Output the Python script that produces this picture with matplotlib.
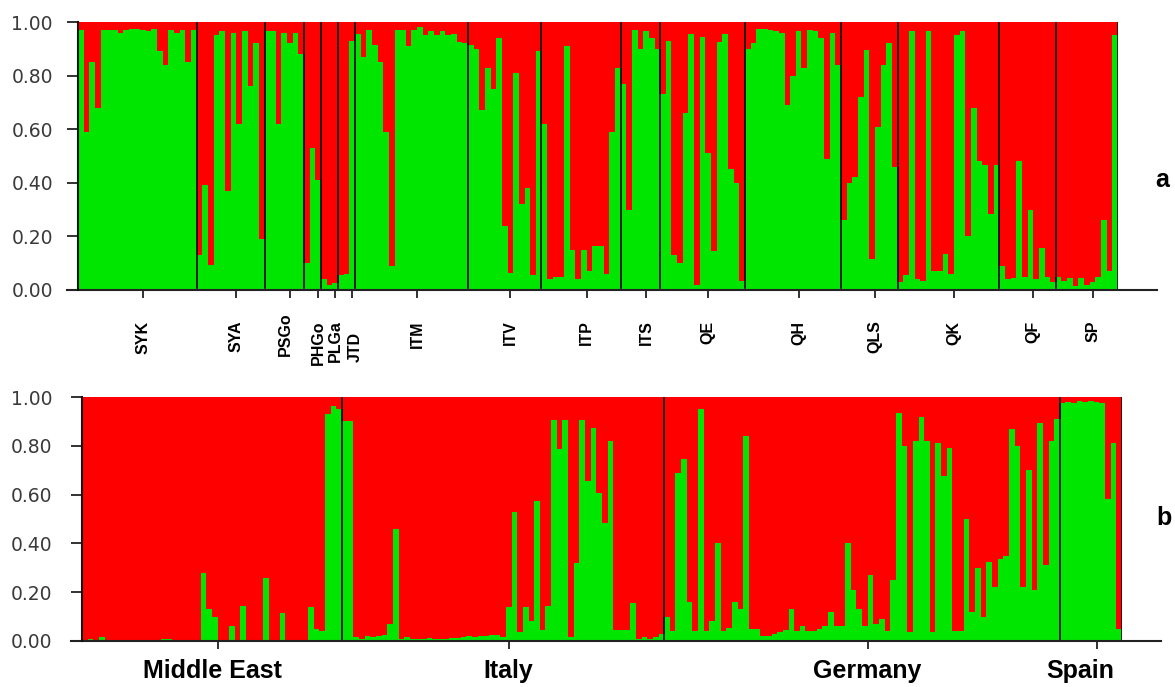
import numpy as np
import matplotlib
matplotlib.use("Agg")
import matplotlib.pyplot as plt

RED = "#ff0000"
GREEN = "#00e600"

# panel a: populations and membership (green cluster) per individual
pop_names = ["SYK", "SYA", "PSGo", "PHGo", "PLGa", "JTD", "ITM", "ITV", "ITP",
             "ITS", "QE", "QH", "QLS", "QK", "QF", "SP"]
pop_sizes = [21, 12, 7, 3, 3, 3, 20, 13, 14, 7, 15, 17, 10, 18, 10, 11]

green_a = [
    0.97, 0.59, 0.85, 0.68, 0.97, 0.97, 0.97, 0.96, 0.97, 0.975, 0.975, 0.97,
    0.965, 0.975, 0.89, 0.84, 0.97, 0.96, 0.97, 0.85, 0.97,                    # SYK
    0.13, 0.39, 0.095, 0.95, 0.965, 0.37, 0.96, 0.62, 0.965, 0.76, 0.92, 0.19,  # SYA
    0.965, 0.965, 0.62, 0.96, 0.92, 0.96, 0.88,                                 # PSGo
    0.10, 0.53, 0.41,                                                           # PHGo
    0.04, 0.02, 0.025,                                                          # PLGa
    0.055, 0.06, 0.93,                                                          # JTD
    0.955, 0.87, 0.97, 0.915, 0.85, 0.59, 0.09, 0.97, 0.97, 0.91, 0.97, 0.98,
    0.95, 0.965, 0.95, 0.965, 0.95, 0.955, 0.925, 0.92,                         # ITM
    0.915, 0.90, 0.67, 0.83, 0.75, 0.94, 0.24, 0.065, 0.81, 0.32, 0.38, 0.055,
    0.89,                                                                       # ITV
    0.62, 0.04, 0.05, 0.05, 0.91, 0.15, 0.04, 0.15, 0.07, 0.165, 0.165, 0.06,
    0.59, 0.83,                                                                 # ITP
    0.77, 0.30, 0.97, 0.90, 0.965, 0.94, 0.90,                                  # ITS
    0.73, 0.93, 0.13, 0.10, 0.66, 0.955, 0.02, 0.945, 0.51, 0.145, 0.925, 0.955,
    0.45, 0.40, 0.035,                                                          # QE
    0.90, 0.92, 0.975, 0.975, 0.97, 0.965, 0.96, 0.69, 0.80, 0.965, 0.83, 0.97,
    0.965, 0.94, 0.49, 0.96, 0.84,                                              # QH
    0.26, 0.40, 0.42, 0.72, 0.895, 0.115, 0.61, 0.84, 0.92, 0.46,               # QLS
    0.03, 0.055, 0.965, 0.04, 0.035, 0.965, 0.07, 0.07, 0.135, 0.06, 0.95, 0.965,
    0.20, 0.68, 0.48, 0.465, 0.285, 0.465,                                      # QK
    0.09, 0.04, 0.045, 0.48, 0.05, 0.30, 0.04, 0.155, 0.05, 0.03,               # QF
    0.05, 0.035, 0.045, 0.015, 0.045, 0.02, 0.03, 0.05, 0.26, 0.07, 0.95,       # SP
]

# panel b: same individuals grouped by region
region_names = ["Middle East", "Italy", "Germany", "Spain"]
region_sizes = [46, 57, 70, 11]

green_b = [
    0.005, 0.008, 0.005, 0.015, 0.002, 0.0, 0.0, 0.002, 0.0, 0.0, 0.0, 0.0,
    0.002, 0.003, 0.008, 0.008, 0.0, 0.0, 0.002, 0.006, 0.003, 0.28, 0.13, 0.10,
    0.0, 0.0, 0.06, 0.0, 0.145, 0.005, 0.004, 0.003, 0.26, 0.0, 0.0, 0.115,
    0.0, 0.0, 0.005, 0.005, 0.14, 0.05, 0.042, 0.93, 0.965, 0.95,               # Middle East
    0.90, 0.90, 0.015, 0.01, 0.02, 0.015, 0.02, 0.025, 0.07, 0.46, 0.01, 0.015,
    0.01, 0.01, 0.01, 0.012, 0.01, 0.01, 0.01, 0.012, 0.012, 0.015, 0.02, 0.015,
    0.02, 0.02, 0.025, 0.025, 0.015, 0.14, 0.53, 0.035, 0.14, 0.08, 0.575, 0.045,
    0.145, 0.905, 0.785, 0.905, 0.015, 0.32, 0.905, 0.655, 0.875, 0.605, 0.485,
    0.82, 0.045, 0.045, 0.045, 0.155, 0.01, 0.015, 0.01, 0.015, 0.03,           # Italy
    0.10, 0.04, 0.69, 0.745, 0.16, 0.04, 0.95, 0.04, 0.08, 0.40, 0.04, 0.055,
    0.16, 0.13, 0.84, 0.05, 0.05, 0.02, 0.02, 0.03, 0.035, 0.045, 0.13, 0.04,
    0.06, 0.04, 0.04, 0.05, 0.06, 0.12, 0.06, 0.06, 0.40, 0.21, 0.13, 0.06,
    0.27, 0.07, 0.09, 0.04, 0.25, 0.935, 0.80, 0.035, 0.82, 0.92, 0.82, 0.035,
    0.81, 0.675, 0.79, 0.04, 0.04, 0.50, 0.12, 0.30, 0.10, 0.325, 0.22, 0.335,
    0.35, 0.87, 0.80, 0.22, 0.70, 0.21, 0.893, 0.31, 0.82, 0.91,                # Germany
    0.975, 0.98, 0.975, 0.985, 0.98, 0.985, 0.98, 0.975, 0.58, 0.81, 0.05,      # Spain
]

W, H = 1175, 687
fig = plt.figure(figsize=(W / 100, H / 100), dpi=100)
plt.rcParams["font.family"] = ["DejaVu Sans"]


def structure_panel(ax, green, sizes, tick_pad):
    n = len(green)
    x = np.arange(n)
    g = np.array(green)
    ax.bar(x, g, width=1.0, align="edge", color=GREEN, linewidth=0)
    ax.bar(x, 1 - g, bottom=g, width=1.0, align="edge", color=RED, linewidth=0)
    edges = np.cumsum(sizes)
    for e in edges:
        ax.axvline(e, color="#111111", lw=1.3)
    ax.set_xlim(0, n)
    ax.set_ylim(0, 1)
    for s in ["top", "right", "bottom"]:
        ax.spines[s].set_visible(False)
    ax.spines["left"].set_linewidth(1.5)
    ax.spines["left"].set_color("#111111")
    # baseline runs past both ends of the plot area
    ax.plot([-11 / 1040 * n, n * 1.0375], [0, 0], color="#222222", lw=1.5,
            clip_on=False)
    ax.set_yticks([0, 0.2, 0.4, 0.6, 0.8, 1.0])
    ax.set_yticklabels(["0.00", "0.20", "0.40", "0.60", "0.80", "1.00"])
    ax.tick_params(axis="y", direction="out", length=8, width=1.3,
                   color="#222222", labelsize=13.5, labelcolor="#3a3a3a",
                   pad=tick_pad)
    starts = edges - np.array(sizes)
    centers = starts + np.array(sizes) / 2 + 1.0
    ax.set_xticks(centers)
    ax.set_xticklabels([])
    ax.tick_params(axis="x", direction="out", length=6, width=1.3,
                   color="#222222")
    return centers


ax_a = fig.add_axes([78 / W, 1 - 290 / H, 1040 / W, 268 / H])
centers_a = structure_panel(ax_a, green_a, pop_sizes, 10)
nudge = {"PSGo": (-3, 6), "JTD": (2, -8)}
for name, cx in zip(pop_names, centers_a):
    dx, dy = nudge.get(name, (0, 0))
    ax_a.annotate(name, xy=(cx, 0), xycoords=("data", "axes fraction"),
                  xytext=(dx, -22 + dy), textcoords="offset points",
                  rotation=90, ha="center", va="top", fontsize=11.5,
                  fontweight="bold", family="Liberation Sans", color="black")

ax_b = fig.add_axes([82 / W, 1 - 641 / H, 1040 / W, 244 / H])
centers_b = structure_panel(ax_b, green_b, region_sizes, 13.5)
shift_b = {"Middle East": -4, "Spain": -12}
for name, cx in zip(region_names, centers_b):
    ax_b.annotate(name, xy=(cx, 0), xycoords=("data", "axes fraction"),
                  xytext=(shift_b.get(name, 0), -26.5), textcoords="offset points",
                  ha="center", va="baseline", fontsize=18, fontweight="bold",
                  family="Liberation Sans", color="black")

fig.text(1162 / W, 1 - 187 / H, "a", fontsize=18, fontweight="bold",
         family="Liberation Sans", ha="center", va="baseline")
fig.text(1164 / W, 1 - 525 / H, "b", fontsize=18, fontweight="bold",
         family="Liberation Sans", ha="center", va="baseline")

fig.savefig("out.png", dpi=100, facecolor="white")
